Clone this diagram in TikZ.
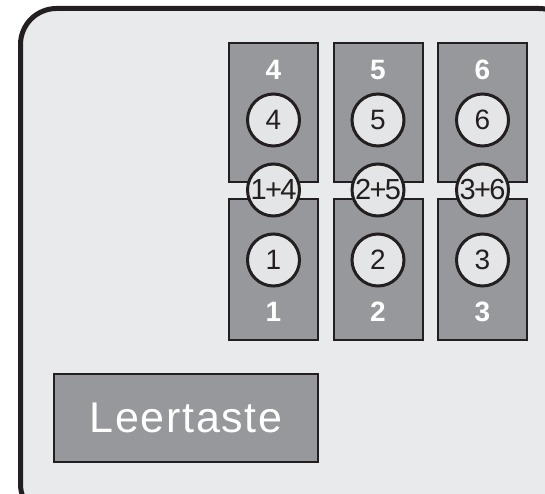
\documentclass[tikz,border=0pt]{standalone}
\usepackage{fontspec}
\setmainfont{Liberation Sans}
\definecolor{panel}{HTML}{E9EAEC}
\definecolor{keygrey}{HTML}{96989C}
\definecolor{dotfill}{HTML}{E4E5E7}
\definecolor{ink}{HTML}{231F20}
\tikzset{
  keyhalf/.style={draw=ink, line width=2pt, fill=keygrey},
  dot/.style={circle, draw=ink, line width=3pt, fill=dotfill, minimum size=52pt, inner sep=0pt,
    text=ink, font=\fontsize{28}{28}\selectfont},
  combo/.style={dot, font=\addfontfeature{LetterSpace=-6}\fontsize{29}{29}\selectfont},
  keylabel/.style={text=white, font=\bfseries\fontsize{28}{28}\selectfont, inner sep=0pt},
}
\begin{document}
\begin{tikzpicture}[x=1pt, y=-1pt]
  \useasboundingbox (0,0) rectangle (545,494);
  \begin{scope}
    \clip (0,0) rectangle (545,494);
    % outer device frame (runs past the right and bottom edges)
    \draw[draw=ink, line width=5pt, fill=panel, rounded corners=36pt]
      (20.5,8.5) rectangle (575,520);
  \end{scope}
  % three key columns: upper half, lower half, circles and labels
  \foreach \i/\x/\up/\lo in {1/229/4/1, 2/333.5/5/2, 3/438/6/3} {
    \path[keyhalf] (\x,43) rectangle ++(89,139);
    \path[keyhalf] (\x,199) rectangle ++(89,141);
    \node[keylabel] (top\i) at (\x+44.5,70) {\up};
    \node[dot] (dup\i) at (\x+44.5,120) {\up};
    \node[dot] (dlo\i) at (\x+44.5,260) {\lo};
    \node[keylabel] (bot\i) at (\x+44.5,312) {\lo};
  }
  \node[combo] (c14) at (273.5,190) {1+4};
  \node[combo] (c25) at (378,190) {2+5};
  \node[combo] (c36) at (482.5,190) {3+6};
  % space bar
  \node[draw=ink, line width=2pt, fill=keygrey, minimum width=264pt, minimum height=88pt,
    inner sep=0pt, text=white, font=\addfontfeature{LetterSpace=4}\fontsize{43}{43}\selectfont]
    (space) at (186,418) {Leertaste};
\end{tikzpicture}
\end{document}
